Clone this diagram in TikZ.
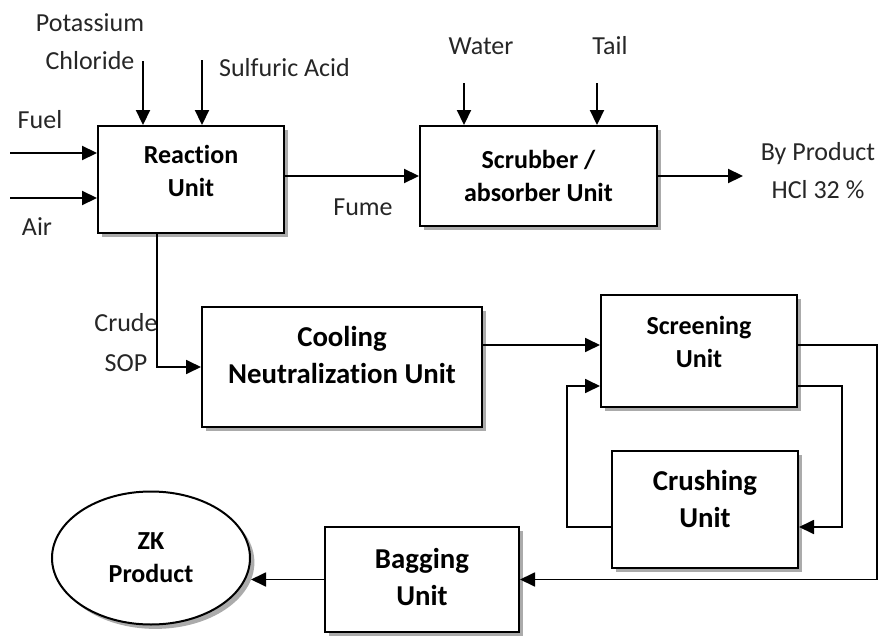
\documentclass[tikz,border=0pt]{standalone}
\usepackage{fontspec}
\setmainfont{Carlito}[Ligatures=NoCommon]
\usetikzlibrary{arrows.meta,shadows,shapes.geometric}
\begin{document}
\begin{tikzpicture}[x=0.5pt,y=-0.5pt,
	unit/.style={draw,line width=1pt,fill=white,align=center,inner sep=0pt,
		font=\bfseries\fontsize{13}{16.5}\selectfont,
		drop shadow={shadow xshift=2.2pt,shadow yshift=-2.2pt,fill=black!55,opacity=0.6}},
	bigunit/.style={unit,font=\bfseries\fontsize{14.4}{18.5}\selectfont},
	flow/.style={-{Triangle[length=7.5pt,width=7pt]},line width=1.1pt},
	loop/.style={flow,line width=0.9pt},
	txt/.style={align=center,inner sep=0pt,text=black!85,font=\fontsize{13}{19}\selectfont}]
	\useasboundingbox (0,0) rectangle (879,637);
	% Units
	\node [unit,minimum width=93pt,minimum height=53.5pt,text depth=8.5pt] (reaction) at (191,179.5) {Reaction\\Unit};
	\node [unit,minimum width=118.5pt,minimum height=50pt] (scrubber) at (538.5,176) {Scrubber /\\absorber Unit};
	\node [bigunit,minimum width=140pt,minimum height=60pt,text depth=12pt] (cooling) at (342,367) {Cooling\\Neutralization Unit};
	\node [unit,minimum width=98pt,minimum height=56pt,text depth=9.5pt] (screening) at (699,351) {Screening\\Unit};
	\node [bigunit,minimum width=93pt,minimum height=58.5pt,text depth=11pt] (crushing) at (705,509.5) {Crushing\\Unit};
	\node [bigunit,minimum width=97pt,minimum height=52.5pt,text depth=3pt] (bagging) at (422,579.5) {Bagging\\Unit};
	\node [unit,ellipse,minimum width=99pt,minimum height=66.5pt] (zk) at (151,558) {ZK\\Product};
	% Labels
	\node [txt] (kcltext) at (90,41.5) {Potassium\\Chloride};
	\node [txt] (sulfurictext) at (284.5,68) {Sulfuric Acid};
	\node [txt] (fueltext) at (40,120) {Fuel};
	\node [txt] (airtext) at (37,227) {Air};
	\node [txt] (fumetext) at (363,207) {Fume};
	\node [txt] (watertext) at (481,46) {Water};
	\node [txt] (tailtext) at (610,46) {Tail};
	\node [txt] (hcltext) at (818,171) {By Product\\HCl 32 \%};
	\node [txt,font=\fontsize{13}{20}\selectfont] (soptext) at (126,343) {Crude\\SOP};
	% Feeds
	\coordinate (fuel) at (10,153);
	\coordinate (air) at (10,198);
	\coordinate (kcl) at (143,61);
	\coordinate (acid) at (202,60);
	\coordinate (water) at (464,83);
	\coordinate (tail) at (597,83);
	\coordinate (hcl) at (743,176);
	\draw [flow] (fuel) -- (fuel -| reaction.west);
	\draw [flow] (air) -- (air -| reaction.west);
	\draw [flow] (kcl) -- (kcl |- reaction.north);
	\draw [flow] (acid) -- (acid |- reaction.north);
	\draw [flow] (water) -- (water |- scrubber.north);
	\draw [flow] (tail) -- (tail |- scrubber.north);
	% Gas line
	\draw [flow] (reaction.east |- scrubber.west) -- (scrubber.west);
	\draw [flow] (scrubber.east) -- (hcl |- scrubber.east);
	% Solid line
	\coordinate (sop) at (157,0);
	\coordinate (redge) at (877,0);
	\coordinate (scrin) at ([yshift=3pt]screening.west);
	\coordinate (scrout) at ([yshift=-17.5pt]screening.east);
	\coordinate (crin) at ([yshift=-8.75pt]crushing.east);
	\draw [loop] (sop |- reaction.south) |- (cooling.west);
	\draw [loop] (cooling.east |- scrin) -- (scrin);
	\draw [loop] (screening.east |- scrin) -| (redge |- bagging.east) -- (bagging.east);
	\draw [loop] (scrout) -- ++(44,0) |- (crin);
	\draw [loop] (crushing.west |- crin) -- ++(-44,0) |- (screening.west |- scrout);
	\draw [loop] (bagging.west) -- (zk.east |- bagging.west);
\end{tikzpicture}
\end{document}
